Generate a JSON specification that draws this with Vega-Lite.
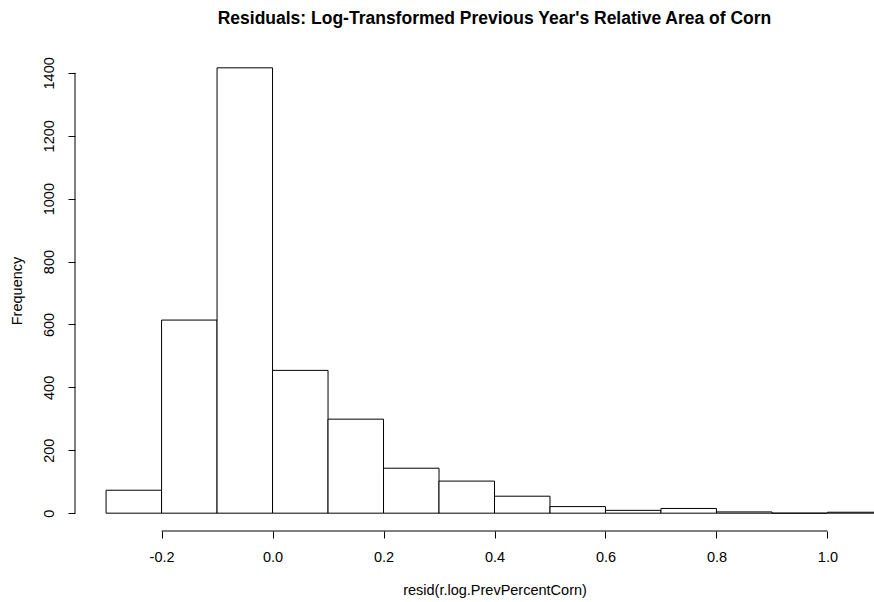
{
  "$schema": "https://vega.github.io/schema/vega-lite/v6.json",
  "width": 839,
  "height": 481,
  "autosize": {"type": "none"},
  "padding": {"left": 75, "top": 50, "right": 0, "bottom": 71},
  "background": "white",
  "config": {"view": {"stroke": null}, "font": "Liberation Sans"},
  "title": {
    "text": "Residuals: Log-Transformed Previous Year's Relative Area of Corn",
    "fontSize": 17.5,
    "fontWeight": "bold",
    "font": "Liberation Sans",
    "anchor": "middle",
    "frame": "group",
    "offset": 23,
    "color": "black"
  },
  "data": {
    "values": [
      {"bin_start": -0.3, "bin_end": -0.2, "count": 73},
      {"bin_start": -0.2, "bin_end": -0.1, "count": 614},
      {"bin_start": -0.1, "bin_end": 0.0, "count": 1416},
      {"bin_start": 0.0, "bin_end": 0.1, "count": 454},
      {"bin_start": 0.1, "bin_end": 0.2, "count": 299},
      {"bin_start": 0.2, "bin_end": 0.3, "count": 143},
      {"bin_start": 0.3, "bin_end": 0.4, "count": 102},
      {"bin_start": 0.4, "bin_end": 0.5, "count": 54},
      {"bin_start": 0.5, "bin_end": 0.6, "count": 21},
      {"bin_start": 0.6, "bin_end": 0.7, "count": 9},
      {"bin_start": 0.7, "bin_end": 0.8, "count": 15},
      {"bin_start": 0.8, "bin_end": 0.9, "count": 4},
      {"bin_start": 0.9, "bin_end": 1.0, "count": 0},
      {"bin_start": 1.0, "bin_end": 1.1, "count": 3}
    ]
  },
  "layer": [
    {
      "mark": {"type": "rect", "fill": "white", "stroke": "black", "strokeWidth": 1},
      "encoding": {
        "x": {
          "field": "bin_start",
          "type": "quantitative",
          "scale": {"domain": [-0.356, 1.156], "nice": false, "zero": false},
          "axis": {
            "values": [-0.2, 0, 0.2, 0.4, 0.6, 0.8, 1.0],
            "labelExpr": "replace(format(datum.value, '.1f'), '\u2212', '-')",
            "domain": false,
            "grid": false,
            "tickColor": "black",
            "tickSize": 7,
            "labelColor": "black",
            "labelFontSize": 14.5,
            "labelFont": "Liberation Sans",
            "labelPadding": 12,
            "labelFlush": false,
            "labelOverlap": false,
            "title": "resid(r.log.PrevPercentCorn)",
            "titleFont": "Liberation Sans",
            "titleFontWeight": "normal",
            "titleFontSize": 14.5,
            "titleColor": "black",
            "titlePadding": 20
          }
        },
        "x2": {"field": "bin_end"},
        "y": {
          "field": "count",
          "type": "quantitative",
          "scale": {"domain": [-56.64, 1472.64], "nice": false, "zero": false},
          "axis": {
            "values": [0, 200, 400, 600, 800, 1000, 1200, 1400],
            "format": "d",
            "domain": false,
            "grid": false,
            "tickColor": "black",
            "tickSize": 7,
            "labelAngle": -90,
            "labelAlign": "center",
            "labelBaseline": "bottom",
            "labelColor": "black",
            "labelFontSize": 14.5,
            "labelFont": "Liberation Sans",
            "labelPadding": 12,
            "labelOverlap": false,
            "title": "Frequency",
            "titleFont": "Liberation Sans",
            "titleFontWeight": "normal",
            "titleFontSize": 14.5,
            "titleColor": "black",
            "titlePadding": 17
          }
        },
        "y2": {"datum": 0}
      }
    },
    {
      "data": {"values": [{}]},
      "mark": {"type": "rule", "color": "black", "strokeWidth": 1},
      "encoding": {
        "x": {"datum": -0.2, "type": "quantitative"},
        "x2": {"datum": 1.0},
        "y": {"datum": -56.64, "type": "quantitative"}
      }
    },
    {
      "data": {"values": [{}]},
      "mark": {"type": "rule", "color": "black", "strokeWidth": 1},
      "encoding": {
        "x": {"datum": -0.356, "type": "quantitative"},
        "y": {"datum": 0, "type": "quantitative"},
        "y2": {"datum": 1400}
      }
    }
  ]
}
